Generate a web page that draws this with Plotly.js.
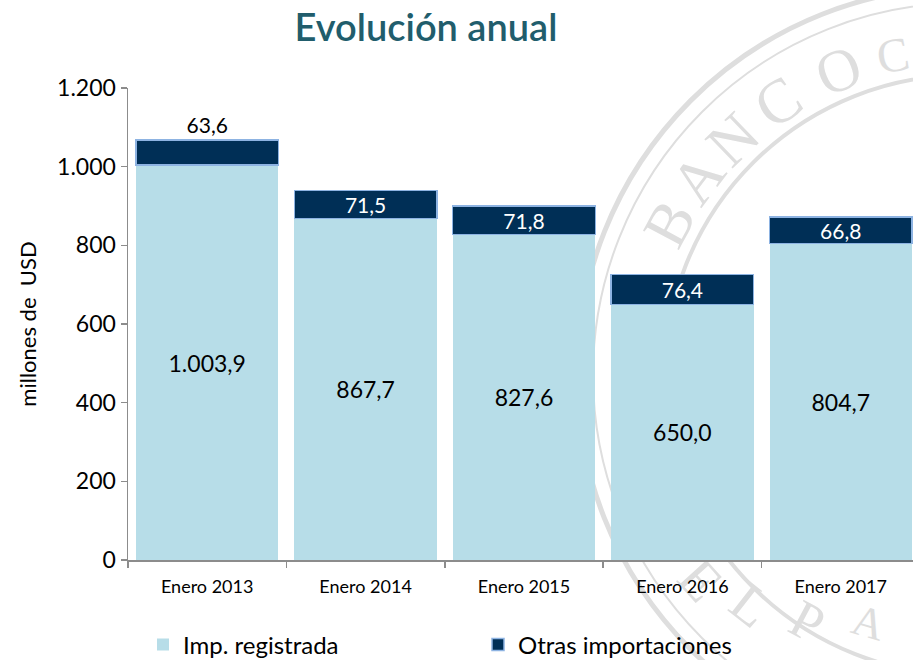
<!DOCTYPE html>
<html>
<head>
<meta charset="utf-8">
<script src="https://cdn.plot.ly/plotly-3.0.1.min.js"></script>
<style>html,body{margin:0;padding:0;background:#fff;}#chart{width:913px;height:660px;}</style>
</head>
<body>
<div id="chart"></div>
<script>
// Data
const categories = ["Enero 2013", "Enero 2014", "Enero 2015", "Enero 2016", "Enero 2017"];
const impRegistrada = [1003.9, 867.7, 827.6, 650.0, 804.7];
const otrasImportaciones = [63.6, 71.5, 71.8, 76.4, 66.8];
const yTicks = [0, 200, 400, 600, 800, 1000, 1200];

// Layout geometry (pixels)
const W = 913, H = 660, ML = 128, MR = 0, MT = 88, MB = 100;
const PW = W - ML - MR, PH = H - MT - MB;
const px = x => (x - ML) / PW;
const py = y => (H - MB - y) / PH;

// Watermark (decorative seal, drawn below everything)
const wmColor = "#dedede";
const cx = 965, cy = 375;
const rings = [{r: 388, w: 5}, {r: 372, w: 2}, {r: 300, w: 4}];
const shapes = rings.map(o => ({
  type: "circle", xref: "paper", yref: "paper", layer: "below",
  x0: px(cx - o.r), x1: px(cx + o.r), y0: py(cy + o.r), y1: py(cy - o.r),
  line: {color: wmColor, width: o.w}, fillcolor: "rgba(0,0,0,0)"
}));
const wmLetters = [
  {t: "B", x: 663, y: 220, a: -62, s: 62}, {t: "A", x: 692, y: 174, a: -53, s: 62},
  {t: "N", x: 728, y: 134, a: -44, s: 62}, {t: "C", x: 774, y: 96, a: -34, s: 62},
  {t: "O", x: 836, y: 64, a: -22, s: 60}, {t: "C", x: 892, y: 50, a: -10, s: 48},
  {t: "E", x: 705, y: 576, a: 48, s: 56}, {t: "L", x: 755, y: 600, a: 38, s: 56},
  {t: "P", x: 810, y: 616, a: 28, s: 54}, {t: "A", x: 870, y: 618, a: 16, s: 44}
];
wmLetters.forEach(l => {
  shapes.push({
    type: "rect", xref: "paper", yref: "paper", layer: "below",
    x0: px(l.x - 1), x1: px(l.x + 1), y0: py(l.y + 1), y1: py(l.y - 1),
    line: {width: 0}, fillcolor: "rgba(0,0,0,0)",
    label: {text: l.t, textangle: l.a, textposition: "middle center",
      xanchor: "center", yanchor: "middle",
      font: {family: "Liberation Serif, DejaVu Serif, serif", size: l.s, color: wmColor}}
  });
});

const baseFont = "Lato, 'Open Sans', sans-serif";

const traces = [
  {
    type: "bar", name: "Imp. registrada", x: categories, y: impRegistrada,
    marker: {color: "#b7dde8", line: {width: 0}},
    texttemplate: "%{y:,.1f}", textposition: "inside", insidetextanchor: "middle",
    constraintext: "none",
    insidetextfont: {family: baseFont, size: 23, color: "#000000"},
    hoverinfo: "skip"
  },
  {
    type: "bar", name: "Otras importaciones", x: categories, y: otrasImportaciones,
    marker: {color: "#002f56", line: {color: "#8db3e2", width: 1.5}},
    texttemplate: "%{y:,.1f}",
    textposition: ["outside", "inside", "inside", "inside", "inside"],
    insidetextanchor: "middle", constraintext: "none", cliponaxis: false,
    insidetextfont: {family: baseFont, size: 21, color: "#ffffff"},
    outsidetextfont: {family: baseFont, size: 21, color: "#000000"},
    hoverinfo: "skip"
  }
];

const layout = {
  width: W, height: H,
  margin: {l: ML, r: MR, t: MT, b: MB, pad: 0, autoexpand: false},
  paper_bgcolor: "#ffffff", plot_bgcolor: "rgba(0,0,0,0)",
  separators: ",.",
  barmode: "stack", bargap: 0.1,
  font: {family: baseFont, color: "#000000"},
  title: {
    text: "Evolución anual", x: 426 / W, xanchor: "center", xref: "container",
    y: 1 - 28 / H, yanchor: "middle", yref: "container",
    font: {family: baseFont, size: 38, color: "#215d6c", weight: 600}
  },
  xaxis: {
    type: "category", range: [-0.5, 4.456], fixedrange: true,
    showline: true, linecolor: "#8c8c8c", linewidth: 1.5,
    ticks: "outside", tickson: "boundaries", ticklen: 6, tickcolor: "#8c8c8c", tickwidth: 1.5,
    showgrid: false, zeroline: false, ticklabelstandoff: 10,
    tickfont: {family: baseFont, size: 18, color: "#000000"}
  },
  yaxis: {
    range: [0, 1200], tickvals: yTicks, tickformat: ",.0f", fixedrange: true,
    showline: true, linecolor: "#8c8c8c", linewidth: 1.5,
    ticks: "outside", ticklen: 6, tickcolor: "#8c8c8c", tickwidth: 1.5,
    showgrid: false, zeroline: false,
    tickfont: {family: baseFont, size: 23, color: "#000000"},
    title: {text: "millones de  USD", standoff: 14, font: {family: baseFont, size: 22, color: "#000000"}}
  },
  legend: {
    orientation: "h", x: px(143), xanchor: "left", y: py(645), yanchor: "middle",
    font: {family: baseFont, size: 24, color: "#000000"},
    entrywidth: 290, entrywidthmode: "pixels",
    bgcolor: "rgba(0,0,0,0)", traceorder: "normal"
  },
  showlegend: true,
  shapes: shapes
};

Plotly.newPlot("chart", traces, layout, {displayModeBar: false, staticPlot: true});
</script>
</body>
</html>
